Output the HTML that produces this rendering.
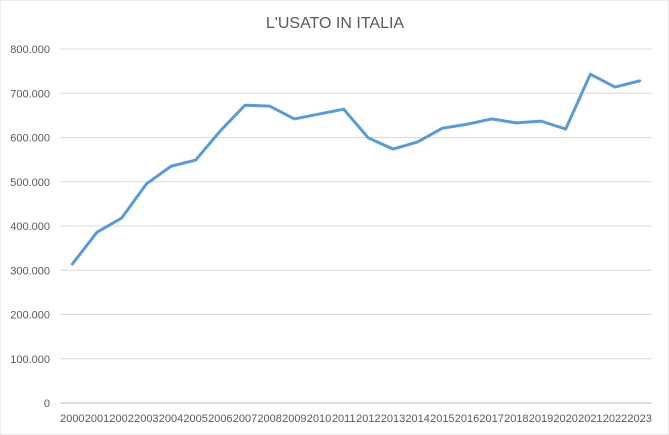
<!DOCTYPE html>
<html><head><meta charset="utf-8"><style>
body{margin:0;background:#fff;}
svg{display:block;font-family:"Liberation Sans",sans-serif;}
</style></head><body>
<svg id="c" width="669" height="435">
<rect x="0" y="0" width="669" height="435" fill="#fff" stroke="#d9d9d9"/>
<text x="335" y="28" text-anchor="middle" font-size="16" fill="#595959">L'USATO IN ITALIA</text>
<g id="grid"></g><g id="yl"></g><g id="xl"></g><g id="ln"></g>
</svg>
<script>
const years=["2000","2001","2002","2003","2004","2005","2006","2007","2008","2009","2010","2011","2012","2013","2014","2015","2016","2017","2018","2019","2020","2021","2022","2023"];
const values=[314000,386000,418000,495000,535000,549000,615000,673000,671000,642000,653000,664000,599000,574000,590000,621000,630000,642000,633000,637000,619000,743000,714000,728000];
const yTicks=[0,100000,200000,300000,400000,500000,600000,700000,800000];
const yTickLabels=["0","100.000","200.000","300.000","400.000","500.000","600.000","700.000","800.000"];
const NS="http://www.w3.org/2000/svg";
const y0=403,yTop=49,xL=60,xR=652;
const ys=v=>y0-(v/800000)*(y0-yTop);
const step=(xR-xL)/years.length;
const xs=i=>xL+step*(i+0.5);
function mk(t,a,p){const e=document.createElementNS(NS,t);for(const k in a)e.setAttribute(k,a[k]);p.appendChild(e);return e;}
const g=document.getElementById('grid'),yl=document.getElementById('yl'),xl=document.getElementById('xl'),ln=document.getElementById('ln');
yTicks.forEach((v,i)=>{
 const l=mk('line',{x1:xL,x2:xR,y1:ys(v),y2:ys(v),stroke:i==0?'#bfbfbf':'#d9d9d9','stroke-width':1},g);
 
 
 const t=mk('text',{x:50,y:ys(v)+4,'text-anchor':'end','font-size':11,fill:'#595959'},yl);
 t.textContent=yTickLabels[i];
 
 
});
years.forEach((y,i)=>{
 const t=mk('text',{x:xs(i),y:422,'text-anchor':'middle','font-size':11,fill:'#595959'},xl);
 t.textContent=y;
 
 
});
const p=mk('polyline',{points:values.map((v,i)=>xs(i)+','+ys(v)).join(' '),fill:'none',stroke:'#5b9bd5','stroke-width':3,'stroke-linejoin':'round','stroke-linecap':'round'},ln);


</script>
</body></html>
